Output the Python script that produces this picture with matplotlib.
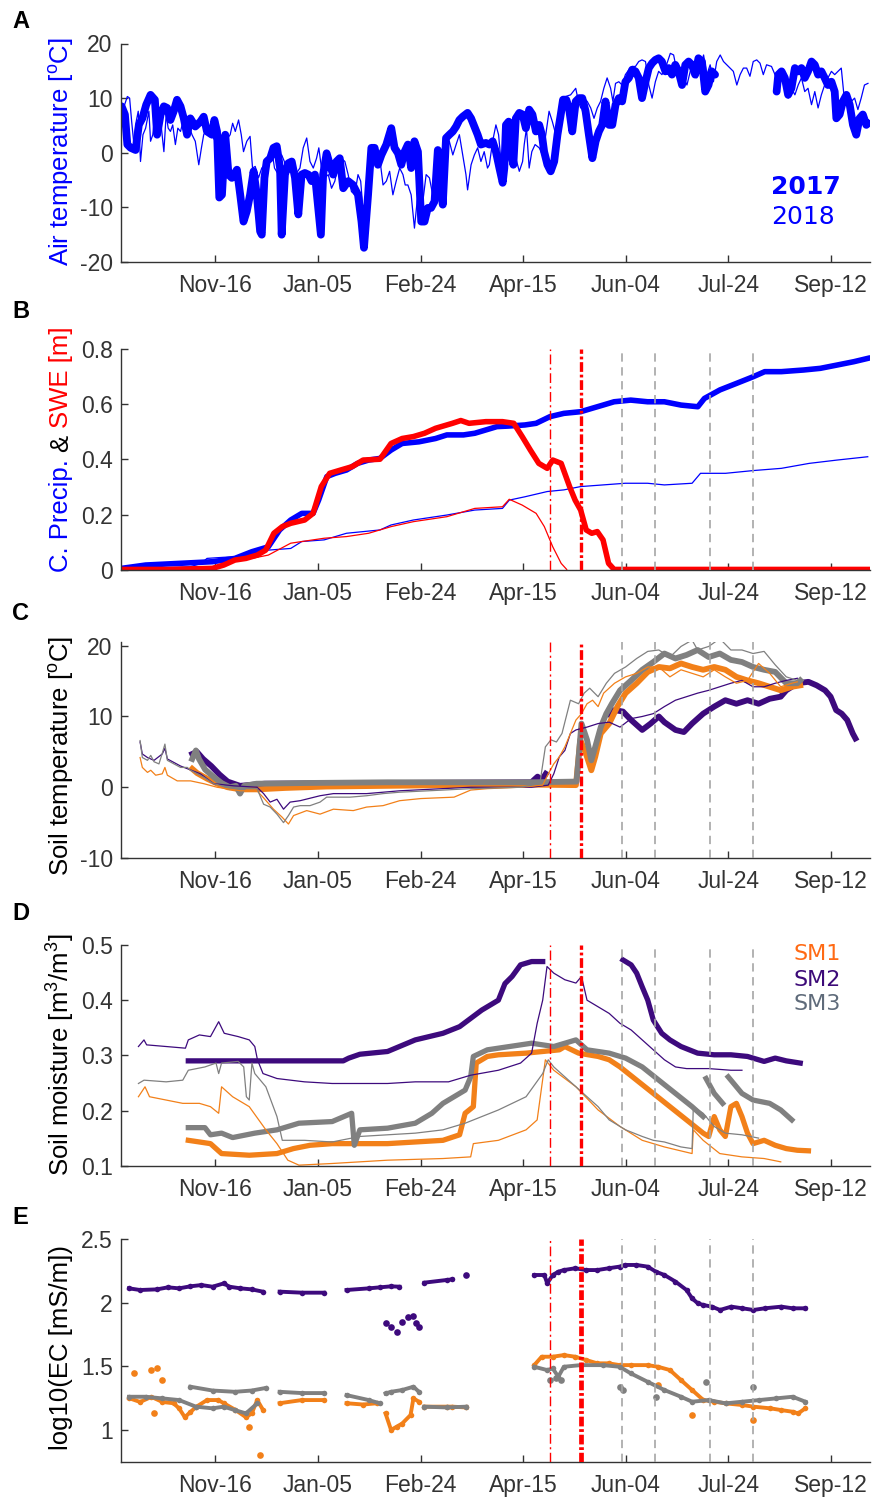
import numpy as np
import matplotlib
matplotlib.use("Agg")
from matplotlib import pyplot as plt

plt.rcParams['font.family'] = ['Liberation Sans', 'DejaVu Sans']
plt.rcParams['mathtext.fontset'] = 'custom'
plt.rcParams['mathtext.rm'] = 'Liberation Sans'
plt.rcParams['mathtext.default'] = 'regular'
plt.rcParams['lines.scale_dashes'] = False

BLUE = '#0000ff'
RED = '#ff0000'
ORANGE = '#f28019'
PURPLE = '#3d0a7d'
GRAY = '#808080'
AXC = '#333333'
nan = np.nan

# x axis: days since 1 October (hydrological year)
tick_days = [46, 96, 146, 196, 246, 296, 346]
tick_labels = ['Nov-16', 'Jan-05', 'Feb-24', 'Apr-15', 'Jun-04', 'Jul-24', 'Sep-12']
melt_start_day = 209      # thin red dash-dot
melt_end_day = 224        # thick red dash-dot
event_days = [244, 260, 287, 308]

# ---------------- A: air temperature ----------------
air17_day = [0.3, 1.9, 3.1, 4.7, 7.1, 8.7, 10.4, 12.3, 14.4, 16.5, 17.6, 19.3, 20.9, 22.5, 24.1, 25.7, 27.3,
             29.0, 30.6, 32.2, 33.8, 36.2, 38.7, 40.3, 41.9, 44.3, 45.5, 46.8, 47.9, 49.2, 50.8, 52.4, 54.0,
             56.5, 58.1, 59.7, 61.3, 62.9, 64.6, 66.2, 67.8, 68.6, 69.9, 71.0, 72.7, 74.3, 75.9, 77.5, 78.3,
             79.9, 81.6, 83.2, 84.8, 86.4, 88.0, 89.6, 91.3, 92.9, 94.5, 96.1, 97.4, 98.5, 100.2, 101.8, 103.4,
             105.0, 106.6, 108.3, 110.7, 113.1, 115.5, 117.2, 118.4, 120.4, 122.0, 123.6, 125.2, 126.9, 129.3,
             131.7, 133.3, 135.0, 136.6, 138.2, 139.8, 141.4, 143.0, 144.7, 146.3, 147.9, 149.5, 151.1, 152.8,
             154.4, 155.2, 156.8, 158.4, 160.0, 161.7, 163.3, 164.9, 166.5, 168.9, 170.6, 172.2, 173.8, 175.4,
             177.8,
             179.5, 181.1, 182.7, 184.4, 186.0, 186.8, 187.6, 188.9, 190.0, 191.2, 192.4, 194.1, 195.7, 197.3,
             198.9, 200.5, 202.2, 203.8, 205.1, 206.2, 207.8, 209.4, 211.1, 212.7, 214.3, 215.4, 217.0, 218.3,
             219.9, 221.6, 223.2, 224.8, 226.4, 228.0, 229.7, 231.3, 232.9, 234.5, 236.1, 237.8, 239.4, 241.0,
             242.6, 244.2, 245.8, 247.5, 249.1, 250.7, 252.3, 253.9, 255.6, 257.2, 258.8, 260.4, 262.0, 263.6,
             265.3, 266.9, 268.5, 270.1, 271.7, 273.4, 275.0, 276.6, 278.2, 279.8, 281.4, 283.1, 284.7, 286.3,
             287.9, 289.5, 300.0,
             319.5, 320.3, 321.9, 323.5, 325.1, 326.7, 328.4, 330.0, 331.6, 333.2, 334.8, 336.5, 338.1, 339.7,
             341.3, 342.9, 344.5, 346.2, 347.8, 348.6, 350.2, 351.8, 353.5, 355.1, 356.7, 358.3, 359.9, 361.5,
             363.2, 364.0]
air17 = [8.5, 7.0, 1.5, 0.9, 0.5, 5.1, 6.3, 8.8, 10.6, 9.7, 3.3, 7.0, 8.5, 8.2, 6.0, 7.6, 9.7, 8.5, 6.3, 3.3,
         6.3, 4.8, 5.7, 6.6, 3.9, 3.3, 6.0, 3.9, -8.2, -7.7, 3.3, -4.0, -4.6, -3.1, -7.7, -12.6, -10.7, -7.7,
         -3.4, -7.7, -14.4, -15.0, -4.6, -1.6, -1.0, 0.9, 1.2, -2.8, -15.0, -4.0, -1.9, -1.6, -4.6, -11.3, -4.0,
         -3.7, -4.0, -5.2, -4.0, -10.1, -15.0, -4.0, -0.1, -2.2, -4.0, -1.6, -1.0, -6.5, -5.2, -5.9, -7.7,
         -12.6, -17.4, -7.7, 0.9, 0.9, -2.2, -0.4, 1.5, 4.5, 0.9, -0.1, -2.2, 0.2, 1.5, -2.8, 2.1, 0.2, -12.6,
         -12.6, -10.1, -10.1, -8.9, 0.5, -1.6, -9.5, 2.7, 3.3, 3.9, 4.8, 6.0, 6.6, 7.3, 6.3, 4.8, 3.3, 1.5, 1.8,
         1.5, 2.1, 0.2, -2.8, -5.5, -2.8, 5.1, 5.7, 0.2, -2.2, 6.3, 7.3, 7.0, 4.5, 7.9, 7.0, 3.9, 5.1, 3.3, 0.2,
         -2.2, -3.4, -1.6, 3.3, 7.0, 9.7, 9.7, 8.2, 3.9, 9.4, 10.0, 10.0, 7.6, 3.3, -1.0, 2.1, 3.9, 5.1, 9.4,
         5.1, 5.1, 8.8, 10.0, 9.4, 13.0, 13.7, 15.2, 14.9, 13.7, 10.0, 13.0, 15.5, 16.4, 17.0, 17.3, 16.7, 14.9,
         15.5, 14.3, 16.1, 14.9, 12.4, 16.1, 16.7, 16.1, 14.3, 17.3, 16.7, 11.2, 12.4, 14.9, 14.3, nan,
         11.2, 14.3, 14.9, 13.7, 10.6, 11.8, 15.5, 14.9, 15.5, 13.7, 14.9, 16.7, 16.1, 14.3, 14.9, 13.7, 12.4,
         13.0, 11.2, 6.3, 7.0, 9.4, 10.6, 8.8, 5.1, 3.3, 6.3, 7.0, 5.1, 5.4]

air18_day = [0.3, 1.5, 3.1, 4.2, 5.2, 6.3, 7.4, 8.4, 9.5, 10.7, 12.0, 13.6, 14.4, 15.5, 16.8, 18.1, 19.7, 20.9,
             22.0, 23.0, 24.1, 25.2, 26.5, 27.7, 29.0, 29.8, 31.4, 33.0, 34.6, 36.2, 37.9, 39.2, 40.3, 41.9,
             43.5, 46.0, 47.6, 49.2, 50.8, 53.2, 54.4, 55.7, 57.3, 58.6, 59.7, 61.3, 62.9, 64.1, 65.4, 67.0,
             68.6, 70.2, 71.8, 73.5, 74.8, 76.7, 78.3, 79.6, 80.7, 82.4, 84.0, 86.1, 87.2, 88.8, 90.5, 92.1,
             93.7, 95.3, 96.4, 97.7, 99.4, 101.0, 102.6, 104.2, 105.8, 107.4, 109.1, 110.7, 112.3, 113.9, 115.5,
             116.8, 118.4, 119.7, 121.2, 122.8, 124.4, 126.1, 127.7, 129.3, 130.9, 132.5, 134.1, 135.8, 137.4,
             138.5, 139.8, 141.4, 143.0, 144.3, 145.5, 147.1, 148.7, 150.3, 151.9, 153.6, 155.2, 156.8, 158.4,
             160.0, 161.7, 163.3, 164.9, 166.5, 168.1, 168.9, 170.6, 172.2, 173.8, 175.4, 177.0, 178.6,
             179.5, 181.1, 182.7, 184.0, 185.2, 186.8, 188.4, 189.5, 190.8, 192.4, 194.1, 195.7, 196.5, 197.6,
             198.9, 200.2, 201.8, 203.8, 205.4, 207.0, 208.6, 210.2, 211.9, 213.5, 215.1, 216.7, 219.1, 221.6,
             222.9, 224.0, 225.6, 227.2, 228.9, 230.5, 232.1, 233.7, 235.3, 236.9, 238.6, 239.7, 241.0, 242.6,
             244.2, 245.8, 247.5, 249.1, 250.7, 252.3, 253.9, 255.6, 257.2, 258.8, 260.4, 262.0, 263.6, 265.3,
             267.7, 269.3, 270.9, 272.5, 274.2, 275.8, 277.4, 279.0, 280.6, 282.3, 283.9, 285.5, 287.1, 288.7,
             290.3, 292.0, 293.6, 295.2, 296.8, 298.4, 300.1, 301.7, 303.3, 304.9, 306.5, 308.1, 309.8, 311.4,
             313.0, 314.6, 317.0, 318.7, 320.3, 321.9, 323.5, 325.1, 326.7, 328.4, 330.0, 331.6, 333.2, 334.8,
             336.5, 338.1, 339.7, 341.3, 342.9, 344.5, 346.2, 347.8, 349.4, 351.0, 352.6, 354.3, 355.9, 357.5,
             359.1, 360.7, 362.3, 364.0]
air18 = [7.6, 8.5, 10.3, 10.0, 5.7, 1.5, 5.7, 7.6, -1.6, 3.3, 4.5, 7.6, 2.1, 3.3, 8.2, 5.7, 4.5, 0.2, 7.0, 4.5,
         3.9, 5.1, 1.5, 4.5, 3.9, 5.1, 3.3, 5.1, 3.3, 2.1, -2.2, 0.9, 3.3, 4.5, 3.6, 2.1, 2.1, 3.3, 2.1, 3.3,
         5.4, 3.9, 6.0, 3.3, 0.2, 2.1, 3.0, -2.8, -2.5, -4.6, -2.8, -2.2, -1.0, 0.5, -2.8, -4.0, -0.4, -1.6,
         -4.0, -3.4, -4.0, -3.4, -2.8, 0.9, 2.7, -1.6, -2.8, -1.0, 0.9, -2.8, -4.6, -4.0, -6.5, -5.2, -2.2,
         -1.0, -1.6, -4.0, -7.1, -7.7, -4.0, -5.2, -12.6, -8.3, -5.9, -2.2, -1.0, -1.0, -5.9, -5.2, -3.4, -7.7,
         -5.2, -2.8, -4.0, -5.9, -5.9, -7.7, -13.8, -8.9, -6.5, -8.9, -4.0, -4.6, -7.7, -7.1, -2.8, -6.5, -0.4,
         2.1, -0.4, 1.5, 3.3, -0.4, -4.0, -6.8, -2.2, -0.4, 0.9, -1.6, 0.2, -2.8,
         -2.2, 2.1, 5.1, 3.3, -1.6, -0.4, 3.3, 1.5, 0.9, -1.0, -3.4, -1.6, 1.5, 4.5, -2.8, 0.2, 1.5, 0.9, -0.4,
         3.3, 7.6, 5.7, 3.3, 7.0, 10.3, 10.3, 10.6, 11.8, 9.4, 8.2, 10.0, 9.4, 8.2, 6.3, 8.2, 9.4, 11.8, 13.7,
         11.8, 9.4, 12.7, 13.0, 12.4, 14.3, 15.2, 15.8, 15.8, 16.7, 17.0, 16.7, 12.4, 10.0, 13.0, 14.9, 14.3,
         15.5, 18.2, 17.9, 14.9, 13.0, 13.7, 12.4, 14.9, 14.9, 13.7, 15.5, 17.9, 14.3, 16.1, 13.0, 16.7, 17.9,
         16.7, 16.1, 15.5, 14.9, 12.4, 14.3, 15.5, 15.5, 14.0, 16.7, 17.0, 16.4, 14.3, 16.1, 15.8, 14.3, 13.0,
         13.7, 12.4, 10.0, 11.8, 10.6, 12.4, 13.7, 11.2, 11.8, 8.8, 11.2, 8.2, 10.6, 12.4, 13.7, 14.9, 14.3,
         14.9, 15.5, 9.4, 10.6, 9.4, 10.0, 7.9, 10.0, 12.4, 12.7]

# ---------------- B: cumulative precipitation and SWE [m] ----------------
precip17_day = [0.3, 12.0, 28.3, 44.6, 55.5, 63.7, 71.8, 77.3, 82.7, 88.1, 93.6, 96.3, 100.3, 104.4, 109.9,
                115.3, 120.7, 126.2, 131.6, 137.0, 145.2, 153.3, 158.8, 166.9, 172.4, 177.8, 183.2, 188.7,
                196.8, 202.3, 209.0, 215.8, 224.0, 229.4, 234.9, 240.3, 248.4, 256.6, 264.8, 272.9, 281.1,
                284.3, 291.9, 300.1, 308.2, 313.7, 321.8, 332.7, 340.8, 349.0, 357.1, 363.9]
precip17 = [0.006, 0.018, 0.024, 0.030, 0.042, 0.066, 0.084, 0.145, 0.181, 0.205, 0.205, 0.253, 0.338, 0.350,
            0.362, 0.386, 0.398, 0.404, 0.434, 0.458, 0.464, 0.476, 0.489, 0.489, 0.495, 0.507, 0.519, 0.521,
            0.525, 0.531, 0.555, 0.567, 0.573, 0.585, 0.597, 0.609, 0.615, 0.609, 0.609, 0.597, 0.591, 0.621,
            0.652, 0.676, 0.700, 0.718, 0.718, 0.724, 0.730, 0.742, 0.754, 0.766]
swe17_day = [0.3, 22.9, 44.6, 50.1, 55.5, 60.9, 66.4, 70.5, 74.5, 78.6, 82.7, 89.5, 93.6, 97.6, 101.7, 107.1,
             112.6, 118.0, 126.2, 131.6, 137.0, 142.5, 147.9, 153.3, 161.5, 165.6, 169.6, 177.8, 185.9, 191.4,
             195.5, 199.5, 203.6, 207.7, 210.4, 214.5, 218.6, 221.3, 224.0, 226.7, 229.4, 232.1, 234.9, 237.6,
             240.3, 363.9]
swe17 = [0.002, 0.002, 0.006, 0.018, 0.036, 0.042, 0.054, 0.072, 0.133, 0.157, 0.169, 0.181, 0.205, 0.302,
         0.350, 0.362, 0.374, 0.398, 0.401, 0.458, 0.476, 0.483, 0.495, 0.513, 0.531, 0.541, 0.531, 0.537,
         0.537, 0.531, 0.483, 0.434, 0.386, 0.368, 0.398, 0.386, 0.302, 0.253, 0.217, 0.145, 0.133, 0.139,
         0.109, 0.024, 0.002, 0.002]
precip18_day = [0.3, 33.8, 39.2, 41.9, 50.1, 63.7, 71.8, 82.7, 88.1, 99.0, 109.9, 126.2, 131.6, 142.5, 158.8,
                172.4, 185.9, 189.2, 196.8, 207.7, 215.8, 224.0, 234.9, 245.7, 256.6, 264.8, 278.3, 282.4,
                294.6, 308.2, 321.8, 335.4, 349.0, 363.9]
precip18 = [0.002, 0.012, 0.024, 0.042, 0.046, 0.051, 0.072, 0.078, 0.103, 0.109, 0.133, 0.145, 0.163, 0.181,
            0.199, 0.217, 0.223, 0.253, 0.265, 0.284, 0.290, 0.302, 0.308, 0.314, 0.314, 0.308, 0.314, 0.350,
            0.350, 0.360, 0.368, 0.386, 0.398, 0.410]
swe18_day = [0.3, 44.6, 50.1, 55.5, 63.7, 71.8, 82.7, 88.1, 99.0, 109.9, 120.7, 131.6, 142.5, 158.8, 172.4,
             185.9, 189.2, 195.5, 202.3, 206.3, 210.4, 214.5, 217.2]
swe18 = [0.002, 0.002, 0.018, 0.042, 0.042, 0.054, 0.097, 0.103, 0.115, 0.121, 0.133, 0.157, 0.175, 0.193,
         0.223, 0.229, 0.256, 0.235, 0.205, 0.157, 0.084, 0.024, 0.002]

# ---------------- C: soil temperature [oC] (1 = orange, 2 = purple, 3 = gray) ----------------
st1_17_day = [34.7, 37.1, 42.0, 47.0, 52.0, 58.2, 66.3, 80.0, 100.0, 130.0, 160.0, 190.0, 221.7, 223.8, 226.5,
              229.2, 231.1, 233.8, 237.9, 241.9, 245.9, 251.3, 256.7, 262.1, 267.5, 272.9, 278.3, 283.7, 289.1,
              294.5, 299.9, 305.3, 310.7, 316.1, 321.5, 326.9, 331.0]
st1_17 = [2.6, 2.0, 1.2, 0.5, 0.0, -0.3, -0.3, -0.1, 0.1, 0.2, 0.3, 0.4, 0.3, 6.7, 4.8, 2.4, 4.3, 7.6, 9.0, 11.4,
          13.3, 14.7, 16.3, 17.0, 16.8, 17.5, 17.0, 16.6, 17.0, 16.6, 15.6, 15.1, 14.7, 14.2, 13.7, 14.2, 14.4]
st2_17_day = [34.7, 37.0, 40.0, 44.0, 48.0, 52.0, 58.0, 70.0, 130.0, 200.0, 203.0, 205.0, 207.0, 220.0,
              237.9, 240.5, 244.6, 248.6, 254.0, 258.1, 262.1, 264.8, 270.2, 274.3, 278.3, 283.7, 289.1, 294.5,
              299.9, 305.3, 310.7, 316.1, 321.5, 324.2, 329.6, 335.0, 339.0, 343.1, 345.8, 348.5, 351.2, 353.9,
              356.6, 357.9]
st2_17 = [4.7, 5.0, 4.0, 3.0, 1.8, 0.8, 0.2, 0.5, 0.6, 0.7, 1.5, 1.0, 1.9, nan,
          10.4, 10.9, 10.7, 9.5, 8.1, 9.0, 10.0, 9.2, 8.1, 7.8, 9.0, 10.4, 11.4, 12.3, 11.8, 12.3, 11.8, 12.5,
          12.8, 13.7, 14.7, 14.9, 14.4, 13.7, 12.8, 10.9, 10.4, 9.5, 7.6, 6.9]
st3_17_day = [34.7, 36.5, 38.0, 41.0, 45.0, 49.0, 53.0, 56.0, 58.0, 60.0, 66.0, 90.0, 130.0, 170.0, 200.0,
              222.0, 224.4, 227.1, 229.2, 231.1, 233.8, 236.5, 239.2, 243.2, 248.6, 254.0, 259.4, 264.8, 270.2,
              275.6, 281.0, 286.4, 291.8, 297.2, 302.6, 308.0, 313.4, 318.8, 324.2, 329.6, 331.0]
st3_17 = [4.0, 5.2, 4.0, 2.5, 1.5, 0.6, 0.0, 0.2, -0.9, 0.2, 0.5, 0.6, 0.7, 0.7, 0.7, 0.8, 9.0, 6.7, 3.8, 5.7,
          8.5, 10.4, 11.8, 13.7, 15.1, 16.6, 17.7, 18.9, 18.2, 18.7, 19.4, 18.4, 18.9, 18.0, 17.7, 17.0, 16.6,
          16.3, 14.7, 14.7, 15.1]
st1_18_day = [9.3, 10.4, 12.9, 14.5, 16.9, 20.1, 21.4, 22.6, 27.4, 33.9, 40.4, 46.8, 58.2, 66.3, 69.5, 74.3,
              78.4, 81.6, 84.1, 90.5, 97.0, 103.5, 113.2, 119.7, 127.7, 135.8, 146.1, 162.3, 170.4, 178.5,
              194.7, 205.5, 208.2, 210.9, 213.6, 216.3, 219.0, 221.7, 224.4, 227.1, 229.8, 232.5, 235.2, 240.5,
              245.9, 251.3, 256.7, 262.1, 267.5, 272.9, 278.3, 283.7, 289.1, 294.5, 299.9, 305.3, 310.7, 316.1,
              321.5, 326.9, 329.6]
st1_18 = [4.2, 2.8, 2.1, 2.4, 1.7, 1.9, 2.8, 1.7, 0.9, 0.9, 0.5, 0.0, -0.5, -0.5, -1.5, -3.1, -4.2, -5.2, -4.0,
          -3.3, -3.8, -3.1, -3.3, -2.8, -2.6, -1.9, -1.6, -1.4, -0.4, -0.2, 0.0, 0.3, 1.9, 3.3, 4.3, 5.7, 7.6,
          9.5, 10.4, 11.8, 12.3, 11.4, 13.3, 14.7, 15.6, 16.1, 17.0, 17.0, 15.6, 16.6, 16.1, 15.6, 16.6, 15.6,
          14.7, 15.1, 17.5, 16.1, 14.2, 14.7, 14.9]
st2_18_day = [9.3, 10.4, 12.9, 16.1, 20.1, 21.4, 22.6, 29.0, 38.7, 45.2, 54.9, 66.3, 69.5, 72.7, 76.0, 79.2,
              82.4, 87.3, 97.0, 103.5, 119.7, 135.8, 170.4, 200.1, 208.2, 210.9, 213.6, 216.3, 219.0, 221.7,
              227.1, 232.5, 237.9, 243.2, 248.6, 254.0, 259.4, 264.8, 270.2, 275.6, 281.0, 286.4, 291.8, 297.2,
              302.6, 308.0, 313.4, 318.8, 324.2, 329.6]
st2_18 = [6.4, 4.7, 4.2, 3.8, 4.7, 5.5, 4.0, 3.0, 1.9, 0.5, 0.2, 0.0, -0.9, -2.1, -1.7, -3.1, -2.1, -1.9, -1.2,
          -0.9, -0.9, -0.5, 0.0, 0.0, 0.3, 1.9, 4.3, 5.2, 7.6, 8.1, 8.5, 9.0, 9.2, 8.5, 9.7, 10.0, 10.4, 11.4,
          12.3, 12.8, 13.3, 13.7, 14.2, 14.7, 15.1, 14.2, 14.2, 14.7, 15.1, 15.4]
st3_18_day = [9.3, 10.4, 12.9, 14.5, 16.1, 18.5, 20.1, 21.4, 22.6, 25.8, 29.0, 32.3, 33.9, 40.4, 45.2, 51.7,
              58.2, 66.3, 69.5, 72.7, 76.0, 79.2, 81.6, 84.1, 87.3, 92.1, 97.0, 100.2, 103.5, 111.6, 119.7,
              127.7, 135.8, 156.9, 170.4, 194.7, 204.1, 206.8, 209.5, 212.2, 214.9, 219.0, 223.0, 225.7, 228.4,
              232.5, 236.5, 240.5, 245.9, 251.3, 256.7, 262.1, 267.5, 272.9, 278.3, 281.0, 286.4, 291.8, 297.2,
              302.6, 308.0, 313.4, 318.8, 324.2, 329.6]
st3_18 = [6.6, 4.2, 3.8, 4.5, 3.6, 3.3, 4.8, 6.1, 3.8, 3.3, 2.8, 2.8, 2.4, 1.4, 0.5, 0.0, -0.2, -0.2, -2.4, -2.8,
          -3.8, -5.0, -4.0, -2.8, -2.6, -2.6, -2.1, -1.4, -1.4, -1.4, -1.2, -0.9, -0.7, -0.4, -0.2, 0.0, 0.5,
          5.7, 6.7, 6.4, 7.6, 12.3, 11.8, 13.3, 14.0, 12.8, 14.7, 16.1, 17.0, 18.2, 19.2, 19.4, 18.4, 19.9, 20.8,
          19.4, 19.9, 21.0, 19.4, 19.4, 18.9, 19.2, 17.3, 15.6, 15.1]

# ---------------- D: soil moisture [m3/m3] ----------------
sm1_17_day = [32.8, 43.6, 49.0, 62.5, 76.0, 84.0, 92.1, 102.9, 129.9, 156.9, 165.0, 167.7, 171.7, 173.1, 178.5,
              183.9, 197.4, 205.5, 213.6, 216.3, 223.0, 232.5, 237.9, 243.2, 251.3, 259.4, 267.5, 275.6, 283.7,
              286.4, 289.1, 291.8, 294.5, 297.2, 299.9, 302.6, 305.3, 308.0, 313.4, 318.8, 324.2, 329.6, 335.0]
sm1_17 = [0.146, 0.140, 0.122, 0.119, 0.122, 0.131, 0.137, 0.140, 0.140, 0.146, 0.156, 0.195, 0.207, 0.286,
          0.298, 0.301, 0.304, 0.307, 0.310, 0.316, 0.304, 0.298, 0.292, 0.279, 0.255, 0.231, 0.207, 0.183,
          0.159, 0.153, 0.189, 0.165, 0.153, 0.207, 0.213, 0.189, 0.159, 0.140, 0.146, 0.137, 0.131, 0.128,
          0.127]
sm2_17_day = [32.8, 108.3, 111.0, 116.4, 129.9, 143.4, 156.9, 165.0, 170.4, 175.8, 181.2, 183.9, 187.1, 190.6,
              194.7, 200.1, 205.5, 225.0, 244.6, 248.6, 251.3, 254.0, 256.7, 259.4, 263.5, 267.5, 272.9, 281.0,
              289.1, 297.2, 305.3, 313.4, 318.8, 324.2, 331.0]
sm2_17 = [0.290, 0.290, 0.295, 0.302, 0.307, 0.328, 0.340, 0.352, 0.367, 0.382, 0.394, 0.400, 0.430, 0.443,
          0.464, 0.470, 0.470, nan, 0.473, 0.464, 0.449, 0.424, 0.400, 0.364, 0.340, 0.328, 0.316, 0.304, 0.301,
          0.301, 0.298, 0.289, 0.295, 0.290, 0.286]
sm3_17_day = [32.8, 40.9, 43.6, 49.0, 54.4, 65.2, 76.0, 86.7, 102.9, 112.4, 113.7, 116.4, 129.9, 143.4, 151.5,
              156.9, 162.3, 167.7, 170.4, 171.7, 178.5, 189.3, 200.1, 210.9, 221.7, 227.1, 237.9, 245.9, 254.0,
              262.1, 270.2, 278.3, 283.7, 284.4, 285.1, 289.1, 293.2, 294.5, 295.9, 302.6, 308.0, 316.1, 321.5,
              326.9]
sm3_17 = [0.169, 0.169, 0.156, 0.159, 0.151, 0.159, 0.165, 0.177, 0.180, 0.195, 0.137, 0.165, 0.168, 0.177,
          0.195, 0.213, 0.225, 0.237, 0.261, 0.298, 0.310, 0.316, 0.322, 0.316, 0.328, 0.310, 0.304, 0.295,
          0.279, 0.255, 0.231, 0.207, 0.189, nan, 0.258, 0.231, 0.213, nan, 0.261, 0.231, 0.219, 0.213, 0.201,
          0.183]
sm1_18_day = [8.5, 11.7, 13.9, 22.0, 30.1, 38.2, 43.6, 47.6, 49.0, 54.4, 62.5, 70.6, 76.0, 81.3, 86.7, 102.9,
              116.4, 129.9, 156.9, 170.4, 171.7, 183.9, 197.4, 202.8, 206.8, 210.9, 221.7, 232.5, 243.2, 254.0,
              264.8, 278.3, 278.9, 283.7, 291.8, 302.6, 313.4, 321.5]
sm1_18 = [0.225, 0.243, 0.225, 0.219, 0.213, 0.213, 0.207, 0.195, 0.243, 0.225, 0.207, 0.165, 0.140, 0.110,
          0.101, 0.104, 0.107, 0.110, 0.113, 0.116, 0.140, 0.146, 0.165, 0.183, 0.292, 0.273, 0.243, 0.201,
          0.171, 0.146, 0.134, 0.122, 0.165, 0.146, 0.122, 0.116, 0.113, 0.107]
sm2_18_day = [8.5, 11.2, 12.5, 22.0, 31.4, 32.8, 38.2, 43.6, 47.6, 50.3, 57.1, 62.5, 65.2, 66.5, 69.2, 76.0,
              89.4, 102.9, 129.9, 143.4, 159.6, 170.4, 183.9, 194.7, 200.1, 202.8, 205.5, 207.6, 210.9, 216.3,
              221.7, 224.4, 227.1, 232.5, 237.9, 243.2, 248.6, 254.0, 259.4, 264.8, 270.2, 275.6, 286.4, 297.2,
              302.6]
sm2_18 = [0.316, 0.328, 0.319, 0.316, 0.313, 0.328, 0.337, 0.334, 0.361, 0.340, 0.334, 0.328, 0.316, 0.292,
          0.267, 0.258, 0.252, 0.249, 0.249, 0.252, 0.252, 0.264, 0.273, 0.286, 0.304, 0.358, 0.400, 0.461,
          0.449, 0.437, 0.431, 0.443, 0.400, 0.388, 0.376, 0.358, 0.346, 0.328, 0.310, 0.292, 0.279, 0.276,
          0.276, 0.273, 0.273]
sm3_18_day = [8.5, 11.2, 22.0, 30.1, 32.8, 40.9, 46.3, 47.6, 49.0, 57.1, 59.8, 61.1, 62.5, 63.8, 65.2, 70.6,
              76.0, 78.6, 89.4, 102.9, 116.4, 129.9, 143.4, 156.9, 167.7, 183.9, 197.4, 205.5, 208.2, 210.9,
              221.7, 232.5, 237.9, 245.9, 254.0, 259.4, 264.8, 272.9, 278.3, 278.9, 283.7, 289.1, 294.5, 302.6,
              310.7]
sm3_18 = [0.249, 0.255, 0.252, 0.255, 0.273, 0.279, 0.286, 0.267, 0.286, 0.289, 0.279, 0.225, 0.219, 0.286,
          0.267, 0.243, 0.189, 0.146, 0.146, 0.143, 0.153, 0.156, 0.159, 0.165, 0.177, 0.201, 0.225, 0.267,
          0.292, 0.279, 0.243, 0.207, 0.183, 0.165, 0.153, 0.146, 0.143, 0.134, 0.131, 0.207, 0.195, 0.171,
          0.159, 0.156, 0.150]

# ---------------- E: log10 of electrical conductivity ----------------
ec2_day = [3.9, 9.3, 17.5, 22.9, 28.3, 33.8, 39.2, 44.6, 50.1, 52.8, 58.2, 63.7, 69.1, 73.0,
           77.3, 88.1, 99.0, 104.0, 109.9, 120.7, 126.2, 131.6, 135.7, 140.0, 147.9, 158.8, 161.5, 190.0,
           201.4, 206.3, 207.7, 210.4, 213.1, 215.8, 221.3, 226.7, 232.1, 237.6, 243.0, 245.7, 251.2, 256.6,
           260.7, 264.8, 270.2, 275.6, 278.3, 281.1, 283.8, 287.9, 291.9, 297.4, 302.8, 308.2, 313.7, 321.8,
           327.3, 333.5]
ec2 = [2.114, 2.101, 2.106, 2.122, 2.114, 2.130, 2.140, 2.127, 2.153, 2.127, 2.114, 2.106, 2.088, nan,
       2.088, 2.080, 2.080, nan, 2.101, 2.114, 2.122, 2.130, 2.127, nan, 2.159, 2.180, 2.185, nan,
       2.219, 2.219, 2.153, 2.219, 2.245, 2.258, 2.272, 2.258, 2.258, 2.272, 2.285, 2.298, 2.298, 2.285,
       2.245, 2.219, 2.167, 2.101, 2.035, 1.996, 1.983, 1.970, 1.944, 1.970, 1.957, 1.944, 1.957, 1.970,
       1.957, 1.957]
ec2_pts_day = [128.9, 131.6, 134.3, 137.0, 139.8, 142.5, 143.8, 145.2, 168.3]
ec2_pts = [1.84, 1.81, 1.77, 1.85, 1.89, 1.90, 1.84, 1.81, 2.219]

ec1_day = [3.9, 9.3, 14.8, 20.2, 25.6, 28.3, 31.1, 33.8, 36.5, 41.9, 47.4, 50.1, 55.5, 60.9, 63.7, 66.4, 69.1,
           73.0, 77.3, 88.1, 99.0, 104.0, 109.9, 118.0, 124.8, 126.5, 128.9, 131.6, 134.3, 137.0, 141.1, 142.5,
           145.2, 146.5, 147.9, 158.8, 161.5, 168.3, 190.0,
           201.4, 205.0, 210.4, 215.8, 221.3, 226.7, 232.1, 237.6, 243.0, 248.4, 256.6, 261.7, 267.5, 272.9,
           278.3, 283.8, 289.2, 294.6, 302.8, 308.2, 316.4, 321.8, 327.3, 330.0, 333.5]
ec1 = [1.25, 1.22, 1.26, 1.22, 1.21, 1.17, 1.10, 1.14, 1.18, 1.235, 1.235, 1.21, 1.16, 1.10, 1.13, 1.235, 1.16,
       nan, 1.21, 1.235, 1.235, nan, 1.21, 1.20, 1.21, nan, 1.13, 1.00, 1.025, 1.05, 1.117, 1.248,
       1.222, nan, 1.183, 1.183, 1.183, 1.177, nan,
       1.510, 1.576, 1.576, 1.589, 1.576, 1.550, 1.524, 1.524, 1.510, 1.510, 1.510, 1.497, 1.471, 1.392,
       1.314, 1.235, 1.222, 1.209, 1.196, 1.183, 1.170, 1.156, 1.143, 1.130, 1.170]
ec1_pts_day = [6.1, 14.8, 17.5, 20.2, 16.1, 62.3, 67.7, 278.3, 308.2, 261.7]
ec1_pts = [1.45, 1.471, 1.484, 1.392, 1.13, 1.025, 0.802, 1.117, 1.077, 1.353]

ec3_day = [3.9, 12.0, 20.2, 28.3, 36.5, 44.6, 50.1, 55.5, 60.9, 66.4, 68.0,
           33.8, 44.6, 55.5, 63.7, 70.5, 73.0,
           77.3, 88.1, 99.0, 104.0, 109.9, 120.7, 126.2, 127.5, 128.9, 131.6, 137.0, 142.5, 145.2, 146.5,
           147.9, 158.8, 168.3, 190.0,
           201.4, 207.7, 210.4, 213.1, 215.8, 224.0, 234.9, 243.0, 248.4, 256.6, 264.8, 272.9, 278.3, 286.5,
           294.6, 302.8, 311.0, 319.1, 327.3, 333.5]
ec3 = [1.261, 1.261, 1.248, 1.235, 1.183, 1.17, 1.183, 1.156, 1.13, 1.209, nan,
       1.34, 1.31, 1.30, 1.31, 1.33, nan,
       1.30, 1.29, 1.29, nan, 1.274, 1.235, 1.209, nan, 1.287, 1.30, 1.314, 1.34, 1.30, nan,
       1.183, 1.177, 1.183, nan,
       1.497, 1.471, 1.484, 1.418, 1.497, 1.510, 1.510, 1.497, 1.445, 1.379, 1.314, 1.261, 1.222, 1.235,
       1.209, 1.222, 1.235, 1.248, 1.261, 1.222]
ec3_pts_day = [209.0, 211.8, 214.5, 243.0, 244.4, 260.7, 285.1, 308.2]
ec3_pts = [1.392, 1.405, 1.392, 1.34, 1.314, 1.261, 1.379, 1.34]


W, H = 877, 1497
fig = plt.figure(figsize=(W / 100, H / 100), dpi=100)


def add_panel(top_px, bottom_px):
    return fig.add_axes([121 / W, 1 - bottom_px / H, 749 / W, (bottom_px - top_px) / H])


def style(ax, ylim, yticks, ylabels):
    ax.set_xlim(0, 365)
    ax.set_ylim(*ylim)
    ax.set_xticks(tick_days)
    ax.set_xticklabels(tick_labels)
    ax.set_yticks(yticks)
    ax.set_yticklabels(ylabels)
    ax.spines['top'].set_visible(False)
    ax.spines['right'].set_visible(False)
    for s in ['left', 'bottom']:
        ax.spines[s].set_color(AXC)
        ax.spines[s].set_linewidth(1.0)
    ax.tick_params(direction='in', length=5, width=1, colors=AXC, labelsize=16.5)
    ax.tick_params(axis='x', pad=8.5)
    ax.tick_params(axis='y', pad=6)


def event_lines(ax):
    ax.axvline(melt_start_day, color=RED, lw=1.0, ls=(0, (7, 2.5, 1.5, 2.5)), zorder=6)
    ax.axvline(melt_end_day, color=RED, lw=2.4, ls=(0, (7, 2, 2, 2)), zorder=6)
    for d in event_days:
        ax.axvline(d, color='#a6a6a6', lw=1.2, ls=(0, (6, 4)), zorder=6)


def ylabel(y_px, text, color='black'):
    fig.text(61 / W, 1 - y_px / H, text, rotation=90, ha='center', va='center', color=color, fontsize=18.5)


# A
axA = add_panel(43.5, 262)
axA.plot(air17_day, air17, color=BLUE, lw=5.6, solid_joinstyle='round', solid_capstyle='round')
axA.plot(air18_day, air18, color=BLUE, lw=0.9)
style(axA, (-20, 20), [-20, -10, 0, 10, 20], ['-20', '-10', '0', '10', '20'])
ylabel(152, 'Air temperature [$^o$C]', BLUE)
fig.text(771 / W, 1 - 187 / H, '2017', color=BLUE, fontsize=18, fontweight='bold',
         family='DejaVu Sans', va='center', ha='left')
fig.text(771 / W, 1 - 217 / H, '2018', color=BLUE, fontsize=18, family='DejaVu Sans', va='center', ha='left')

# B
axB = add_panel(349, 570)
axB.plot(precip18_day, precip18, color=BLUE, lw=0.9)
axB.plot(swe18_day, swe18, color=RED, lw=0.9)
axB.plot(precip17_day, precip17, color=BLUE, lw=4.0)
axB.plot(swe17_day, swe17, color=RED, lw=4.0)
event_lines(axB)
style(axB, (0, 0.8), [0, 0.2, 0.4, 0.6, 0.8], ['0', '0.2', '0.4', '0.6', '0.8'])

parts = [('C. Precip.', BLUE), ('&', 'black'), ('SWE [m]', RED)]
texts = [fig.text(61 / W, 0, s, color=c, rotation=90, ha='center', va='bottom', fontsize=18.5)
         for s, c in parts]
renderer = fig.canvas.get_renderer()
gap = 7 / H
heights = [t.get_window_extent(renderer).height / H for t in texts]
y0 = (1 - 449 / H) - (sum(heights) + gap * (len(texts) - 1)) / 2
for t, h in zip(texts, heights):
    t.set_y(y0)
    y0 += h + gap

# C
axC = add_panel(642.2, 858)
axC.plot(st2_17_day, st2_17, color=PURPLE, lw=4.2)
axC.plot(st1_17_day, st1_17, color=ORANGE, lw=4.2)
axC.plot(st3_17_day, st3_17, color=GRAY, lw=4.2)
axC.plot(st2_18_day, st2_18, color=PURPLE, lw=0.9)
axC.plot(st1_18_day, st1_18, color=ORANGE, lw=0.9)
axC.plot(st3_18_day, st3_18, color=GRAY, lw=0.9)
event_lines(axC)
style(axC, (-10, 20.5), [-10, 0, 10, 20], ['-10', '0', '10', '20'])
ylabel(756, 'Soil temperature [$^o$C]')

# D
axD = add_panel(945, 1165.7)
axD.plot(sm2_17_day, sm2_17, color=PURPLE, lw=3.8)
axD.plot(sm1_17_day, sm1_17, color=ORANGE, lw=3.8)
axD.plot(sm3_17_day, sm3_17, color=GRAY, lw=3.8)
axD.plot(sm2_18_day, sm2_18, color=PURPLE, lw=0.9)
axD.plot(sm1_18_day, sm1_18, color=ORANGE, lw=0.9)
axD.plot(sm3_18_day, sm3_18, color=GRAY, lw=0.9)
event_lines(axD)
style(axD, (0.1, 0.5), [0.1, 0.2, 0.3, 0.4, 0.5], ['0.1', '0.2', '0.3', '0.4', '0.5'])
ylabel(1055, 'Soil moisture [m$^3$/m$^3$]')
for name, col, y in [('SM1', '#ff6a14', 954), ('SM2', '#3c0a78', 979.5), ('SM3', '#5f6b7a', 1004.5)]:
    fig.text(841 / W, 1 - y / H, name, color=col, fontsize=16, family='DejaVu Sans', ha='right', va='center')

# E
axE = add_panel(1239.3, 1461.7)
for d, v, pd_, pv, col in [(ec2_day, ec2, ec2_pts_day, ec2_pts, PURPLE),
                           (ec1_day, ec1, ec1_pts_day, ec1_pts, ORANGE),
                           (ec3_day, ec3, ec3_pts_day, ec3_pts, GRAY)]:
    axE.plot(d, v, '-o', color=col, lw=2.8, ms=4.0, mew=0)
    axE.plot(pd_, pv, 'o', color=col, ms=4.8, mew=0)
event_lines(axE)
axE.lines[-5].set_linewidth(3.4)
style(axE, (0.75, 2.5), [1, 1.5, 2, 2.5], ['1', '1.5', '2', '2.5'])
ylabel(1347, 'log10(EC [mS/m])')

for letter, y in [('A', 22), ('B', 311), ('C', 613), ('D', 913), ('E', 1217)]:
    fig.text(12 / W, 1 - y / H, letter, fontsize=17, fontweight='bold', ha='left', va='center')

fig.savefig('out.png', dpi=100)
